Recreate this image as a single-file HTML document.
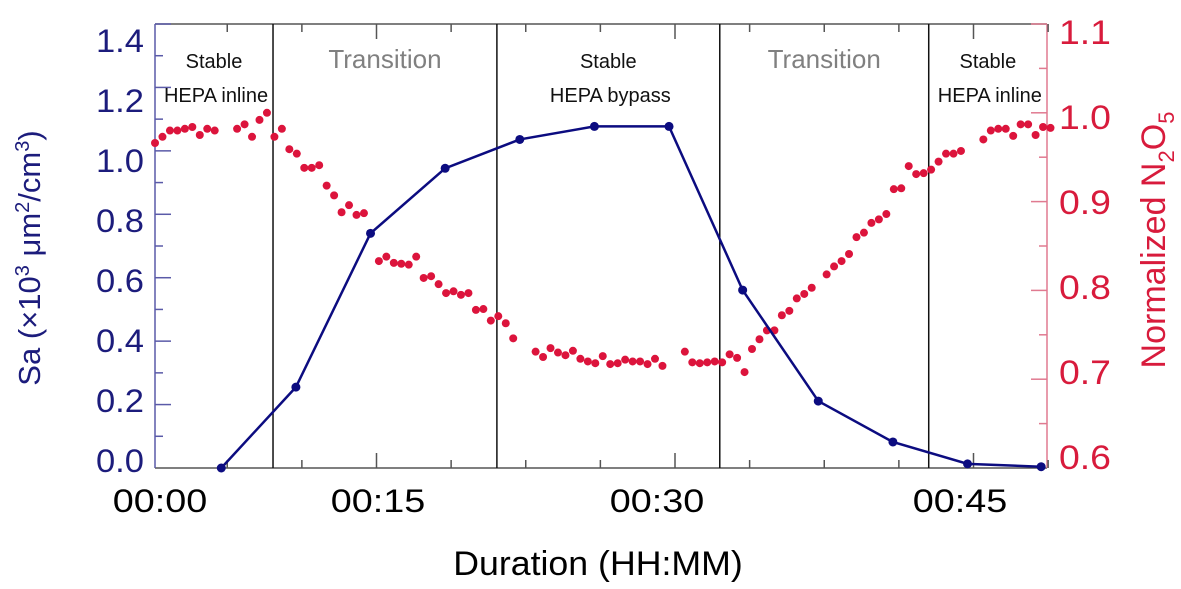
<!DOCTYPE html>
<html><head><meta charset="utf-8"><style>
body{margin:0;background:#fff;}
svg{display:block;font-family:"Liberation Sans",sans-serif;}
</style></head><body>
<svg id="chart" width="1181" height="589" viewBox="0 0 1181 589"></svg>
<script>
// ---- data ----
const phaseBoundaries = [9.8, 21.05, 32.25, 42.75];
const phaseNames = ["Stable HEPA inline","Transition","Stable HEPA bypass","Transition","Stable HEPA inline"];
const saTimes = [7.2, 10.95, 14.7, 18.45, 22.2, 25.95, 29.7, 33.4, 37.2, 40.95, 44.7, 48.4];
const saValues = [0.0, 0.255, 0.74, 0.945, 1.036, 1.077, 1.077, 0.561, 0.211, 0.082, 0.013, 0.004];
const n2o5Start = 3.87;      // minutes
const n2o5Interval = 0.375;  // minutes
const n2o5Values = [0.966,0.973,0.980,0.980,0.982,0.984,0.975,0.982,0.980,null,null,0.982,0.987,0.973,0.992,1.000,0.973,0.982,0.959,0.954,
0.938,0.938,0.941,0.918,0.907,0.888,0.896,0.885,0.887,null,0.833,0.838,0.831,0.830,0.829,0.838,0.814,0.816,0.807,0.797,
0.799,0.795,0.797,0.778,0.779,0.766,0.771,0.763,0.746,null,null,0.731,0.725,0.735,0.730,0.727,0.732,0.723,0.720,0.718,
0.726,0.717,0.718,0.722,0.720,0.720,0.717,0.723,0.715,null,null,0.731,0.719,0.718,0.719,0.720,0.719,0.728,0.724,0.708,
0.734,0.745,0.755,0.755,0.772,0.777,0.791,0.796,0.803,null,0.818,0.827,0.833,0.841,0.860,0.865,0.876,0.880,0.886,0.914,
0.915,0.940,0.931,0.932,0.936,0.945,0.954,0.954,0.957,null,null,0.970,0.980,0.982,0.982,0.974,0.987,0.987,0.975,0.984,0.983];
const leftTicks = [0.0,0.2,0.4,0.6,0.8,1.0,1.2,1.4];
const leftTickLabels = ["0.0","0.2","0.4","0.6","0.8","1.0","1.2","1.4"];
const rightTicks = [0.6,0.7,0.8,0.9,1.0,1.1];
const rightTickLabels = ["0.6","0.7","0.8","0.9","1.0","1.1"];
const xTickLabels = ["00:00","00:15","00:30","00:45"];

// ---- scales ----
const L=155,R=1047,T=24,B=468;
const xS = m => 78 + m*19.9;
const yL = v => B - v/1.4*(B-T);
const yR = v => B - (v-0.6)/0.5*(B-T);
// label placement (labels in the figure are slightly compressed vs ticks)
const yLlab = v => 460 - v/1.4*420;
const yRlab = v => 457 - (v-0.6)/0.5*425;
const NS="http://www.w3.org/2000/svg";
const svg=document.getElementById('chart');
function mk(tag,attrs,parent){const e=document.createElementNS(NS,tag);for(const k in attrs)e.setAttribute(k,attrs[k]);(parent||svg).appendChild(e);return e;}

let e;
e=mk('line',{x1:L,y1:T,x2:R,y2:T,stroke:'#555','stroke-width':1.5});


e=mk('line',{x1:L,y1:B,x2:R,y2:B,stroke:'#555','stroke-width':1.5});


e=mk('line',{x1:L,y1:T,x2:L,y2:B,stroke:'#5a5aa8','stroke-width':1.5});


e=mk('line',{x1:R,y1:T,x2:R,y2:B,stroke:'#e07a90','stroke-width':1.5});



for(let m=7.5;m<49;m+=3.75){
  const x=xS(m); const major=Math.abs((m/15)-Math.round(m/15))<1e-6; const len=major?15:8;
  e=mk('line',{x1:x,y1:B,x2:x,y2:B-len,stroke:'#555','stroke-width':1.5});
  
  
  e=mk('line',{x1:x,y1:T,x2:x,y2:T+len,stroke:'#555','stroke-width':1.5});
  
  
}
const xLabelPos=[160,378,657,960];
xTickLabels.forEach((t,i)=>{
  e=mk('text',{x:0,y:0,'font-size':32,'text-anchor':'middle',fill:'#000',transform:`translate(${xLabelPos[i]},512) scale(1.18,1)`});
  e.textContent=t;
  
  
});
for(let v=0.1;v<1.45;v+=0.1){
  const y=yL(v); const major=Math.round(v*10)%2===0;
  e=mk('line',{x1:L,y1:y,x2:L+(major?16:8),y2:y,stroke:'#5a5aa8','stroke-width':1.5});
  
  
}
leftTicks.forEach((v,i)=>{
  e=mk('text',{x:0,y:0,'font-size':32,'text-anchor':'end',fill:'#1c1c7c',transform:`translate(144,${yLlab(v)+12}) scale(1.08,1)`});
  e.textContent=leftTickLabels[i];
  
  
});
for(let v=0.65;v<1.12;v+=0.05){
  const y=yR(v); const major=Math.round(v*100)%10===0;
  e=mk('line',{x1:R,y1:y,x2:R-(major?16:8),y2:y,stroke:'#e07a90','stroke-width':1.5});
  
  
}
rightTicks.forEach((v,i)=>{
  e=mk('text',{x:0,y:0,'font-size':34,'text-anchor':'start',fill:'#d81b3c',transform:`translate(1059,${yRlab(v)+12}) scale(1.1,1)`});
  e.textContent=rightTickLabels[i];
  
  
});

phaseBoundaries.forEach(m=>{
  e=mk('line',{x1:xS(m),y1:T,x2:xS(m),y2:B,stroke:'#111','stroke-width':1.5});
  
  
});
const edges=[L].concat(phaseBoundaries.map(xS)).concat([R]);
phaseNames.forEach((n,i)=>{
  const cx=(edges[i]+edges[i+1])/2;
  if(n==="Transition"){
    e=mk('text',{x:cx,y:68,'font-size':26,'text-anchor':'middle',fill:'#808080'});
    e.textContent=n;
    
    
  } else {
    const parts=n.split(' ');
    e=mk('text',{x:cx,y:68,'font-size':20,'text-anchor':'middle',fill:'#111'});
    e.textContent=parts[0];
    
    
    e=mk('text',{x:cx+2,y:102,'font-size':20,'text-anchor':'middle',fill:'#111'});
    e.textContent=parts.slice(1).join(' ');
    
    
  }
});

n2o5Values.forEach((v,i)=>{
  if(v===null)return;
  e=mk('circle',{cx:xS(n2o5Start+i*n2o5Interval),cy:yR(v),r:4,fill:'#dc143c'});
  
  
});
e=mk('polyline',{points:saTimes.map((t,i)=>xS(t)+','+yL(saValues[i])).join(' '),fill:'none',stroke:'#0c0c80','stroke-width':2.5});


saTimes.forEach((t,i)=>{
  e=mk('circle',{cx:xS(t),cy:yL(saValues[i]),r:4.5,fill:'#0c0c80'});
  
  
});

e=mk('text',{x:0,y:0,'font-size':34,'text-anchor':'middle',fill:'#000',transform:'translate(598,575) scale(1.05,1)'});
e.textContent='Duration (HH:MM)';


e=mk('text',{x:0,y:0,'font-size':31,'text-anchor':'middle',fill:'#1c1c7c',transform:'translate(40,258) rotate(-90)'});
e.innerHTML='Sa (×10<tspan dy="-11" font-size="20">3</tspan><tspan dy="11"> μm</tspan><tspan dy="-11" font-size="20">2</tspan><tspan dy="11">/cm</tspan><tspan dy="-11" font-size="20">3</tspan><tspan dy="11">)</tspan>';


e=mk('text',{x:0,y:0,'font-size':34,'text-anchor':'middle',fill:'#d81b3c',transform:'translate(1165,240) rotate(-90)'});
e.innerHTML='Normalized N<tspan dy="9" font-size="22">2</tspan><tspan dy="-9">O</tspan><tspan dy="9" font-size="22">5</tspan>';


</script>
</body></html>
